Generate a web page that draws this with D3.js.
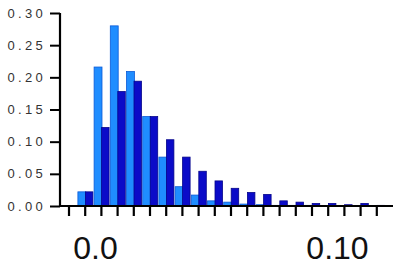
<!DOCTYPE html>
<html>
<head>
<meta charset="utf-8">
<script src="https://cdn.jsdelivr.net/npm/d3@7"></script>
<style>
  html, body { margin: 0; padding: 0; background: #fff; }
  svg { display: block; }
</style>
</head>
<body>
<svg id="chart" width="400" height="270"></svg>
<script>
// ---- data ----
const bins = d3.range(20).map(i => "b" + i);
const lightValues = [0, 0.022, 0.216, 0.280, 0.209, 0.139, 0.076, 0.030, 0.017, 0.008,
                     0.006, 0.003, 0.002, 0.001, 0.001, 0.001, 0, 0, 0, 0];
const darkValues  = [0, 0.022, 0.122, 0.178, 0.194, 0.139, 0.103, 0.076, 0.054, 0.039,
                     0.0275, 0.021, 0.018, 0.008, 0.006, 0.004, 0.004, 0.002, 0.004, 0.001];
const yTicks = [0, 0.05, 0.10, 0.15, 0.20, 0.25, 0.30];
const xLabelValues = [0.0, 0.10];
const xLabelTexts = ["0.0", "0.10"];
const seriesKeys = ["light", "dark"];

// ---- layout ----
const svg = d3.select("#chart");
const y = d3.scaleLinear().domain([0, 0.30]).range([206, 13]);
const x = d3.scaleBand().domain(bins).range([60.9, 384.9]).padding(0);
const x1 = d3.scaleBand().domain(seriesKeys).range([0.8, x.bandwidth() - 0.4]).padding(0);
const xv = d3.scaleLinear().domain([0, 0.10]).range([95.5, 337.5]);

const colors = { light: "#1f8dff", dark: "#0b0bc8" };
const strokes = { light: "#0a5ad8", dark: "#05058a" };

const rows = bins.map((b, i) => ({ bin: b, light: lightValues[i], dark: darkValues[i] }));

// bars
const g = svg.append("g");
const groups = g.selectAll("g.bin").data(rows).join("g")
  .attr("transform", d => `translate(${x(d.bin)},0)`);
seriesKeys.forEach(k => {
  groups.filter(d => d[k] > 0).append("rect")
    .attr("x", x1(k))
    .attr("y", d => y(d[k]))
    .attr("width", x1.bandwidth() + (k === "light" ? 0.4 : 0))
    .attr("height", d => y(0) - y(d[k]))
    .attr("fill", colors[k])
    .attr("stroke", strokes[k])
    .attr("stroke-width", 0.8);
});

// y axis
const yAxis = d3.axisLeft(y).tickValues(yTicks).tickSize(10).tickPadding(0).tickFormat(() => "");
const ya = svg.append("g").attr("transform", "translate(60,0)").call(yAxis);
ya.select(".domain").attr("d", `M0,${y(0.30)}V${y(0) + 1}`).attr("stroke", "#000").attr("stroke-width", 2.2);
ya.selectAll(".tick line").attr("stroke", "#000").attr("stroke-width", 2);
svg.append("g").selectAll("text").data(yTicks).join("text")
  .attr("x", 46)
  .attr("y", d => y(d) + 4.6)
  .attr("text-anchor", "end")
  .attr("font-family", "Liberation Sans, Arial, sans-serif")
  .attr("font-size", 13)
  .attr("letter-spacing", 3.3)
  .attr("fill", "#333")
  .text(d => d3.format(".2f")(d));

// x axis
const xAxis = d3.axisBottom(x).tickSize(10).tickFormat(() => "");
const xa = svg.append("g").attr("transform", "translate(0,206)").call(xAxis);
xa.select(".domain").attr("d", "M59,0H393").attr("stroke", "#000").attr("stroke-width", 2);
xa.selectAll(".tick line").attr("stroke", "#000").attr("stroke-width", 2.2);

svg.append("g").selectAll("text").data(xLabelValues).join("text")
  .attr("x", d => xv(d))
  .attr("y", 259)
  .attr("text-anchor", "middle")
  .attr("font-family", "Liberation Sans, Arial, sans-serif")
  .attr("font-size", 32)
  .attr("fill", "#111")
  .text((d, i) => xLabelTexts[i]);
</script>
</body>
</html>
